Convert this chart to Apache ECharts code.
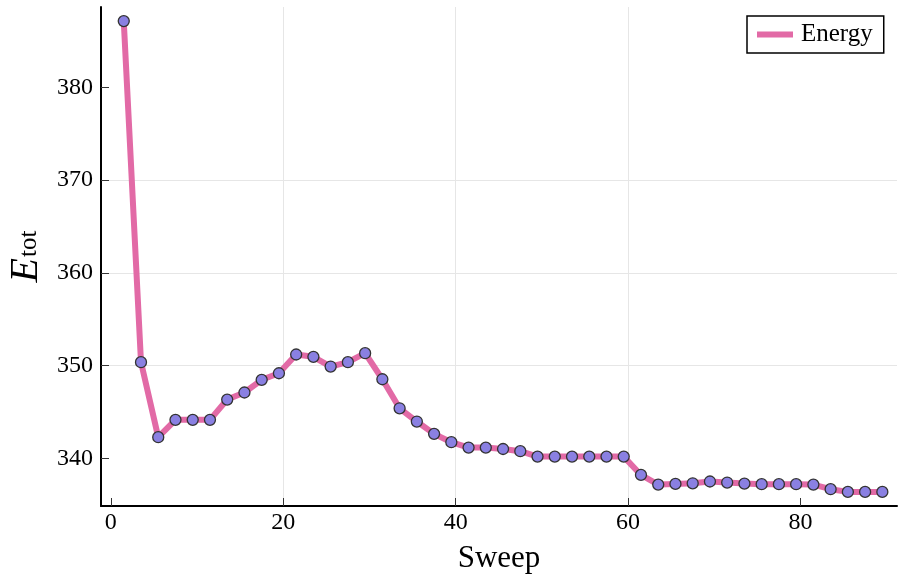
<!DOCTYPE html>
<html>
<head>
<meta charset="utf-8">
<script src="https://cdn.jsdelivr.net/npm/echarts@6/dist/echarts.min.js"></script>
<style>
  html, body { margin: 0; padding: 0; background: #fff; }
  #main { width: 898px; height: 579px; }
</style>
</head>
<body>
<div id="main"></div>
<script>
// sweep number and total energy
var sweep = [1.5, 3.5, 5.5, 7.5, 9.5, 11.5, 13.5, 15.5, 17.5, 19.5,
             21.5, 23.5, 25.5, 27.5, 29.5, 31.5, 33.5, 35.5, 37.5, 39.5,
             41.5, 43.5, 45.5, 47.5, 49.5, 51.5, 53.5, 55.5, 57.5, 59.5,
             61.5, 63.5, 65.5, 67.5, 69.5, 71.5, 73.5, 75.5, 77.5, 79.5,
             81.5, 83.5, 85.5, 87.5, 89.5];
var energy = [387.15, 350.36, 342.27, 344.14, 344.14, 344.14, 346.33, 347.09, 348.46, 349.17,
              351.19, 350.94, 349.89, 350.36, 351.33, 348.52, 345.39, 343.96, 342.63, 341.73,
              341.15, 341.15, 341.0, 340.76, 340.18, 340.18, 340.18, 340.18, 340.18, 340.18,
              338.2, 337.16, 337.23, 337.3, 337.49, 337.38, 337.27, 337.2, 337.2, 337.2,
              337.16, 336.66, 336.37, 336.37, 336.37];
var xTicks = [0, 20, 40, 60, 80];
var yTicks = [340, 350, 360, 370, 380];

var points = sweep.map(function (s, i) {
    return [s, energy[i]];
});

var font = '"Liberation Serif", "DejaVu Serif", serif';
var pink = '#e26aa6';

var chart = echarts.init(document.getElementById('main'));

var option = {
    animation: false,
    backgroundColor: '#fff',
    grid: {
        left: 101,
        top: 7,
        right: 1,
        height: 499,
        containLabel: false,
        outerBoundsMode: 'none'
    },
    legend: {
        left: 747,
        top: 16,
        padding: [6, 11, 6, 10],
        borderColor: '#000',
        borderWidth: 1.5,
        borderRadius: 0,
        backgroundColor: '#fff',
        itemWidth: 36,
        itemHeight: 6,
        itemGap: 6,
        textStyle: { fontFamily: font, fontSize: 25, color: '#000', padding: [0, 0, 0, 3] },
        data: [{ name: 'Energy', icon: 'rect',
                 itemStyle: { color: pink, borderWidth: 0 } }]
    },
    xAxis: {
        type: 'value',
        min: -1.14,
        max: 91.2,
        name: 'Sweep',
        nameLocation: 'middle',
        nameGap: 37,
        nameTextStyle: { fontFamily: font, fontSize: 31, color: '#000' },
        axisLine: { show: true, onZero: false, lineStyle: { color: '#000', width: 2 } },
        axisTick: { show: true, inside: true, length: 8, customValues: xTicks,
                    lineStyle: { color: '#333', width: 1 } },
        axisLabel: { customValues: xTicks, margin: 5, fontFamily: font, fontSize: 24, color: '#000' },
        splitLine: { show: true, showMinLine: false, showMaxLine: false,
                     lineStyle: { color: '#e6e6e6', width: 1 } }
    },
    yAxis: {
        type: 'value',
        min: 334.85,
        max: 388.67,
        name: '{e|E}{s|tot}',
        nameLocation: 'middle',
        nameRotate: 90,
        nameGap: 55,
        nameTextStyle: {
            color: '#000',
            rich: {
                e: { fontFamily: font, fontStyle: 'italic', fontSize: 40, color: '#000' },
                s: { fontFamily: font, fontSize: 25, color: '#000', padding: [6, 0, 0, 1] }
            }
        },
        axisLine: { show: true, onZero: false, lineStyle: { color: '#000', width: 2 } },
        axisTick: { show: true, inside: true, length: 8, customValues: yTicks,
                    lineStyle: { color: '#333', width: 1 } },
        axisLabel: { customValues: yTicks, margin: 8, fontFamily: font, fontSize: 24, color: '#000' },
        splitLine: { show: true, showMinLine: false, showMaxLine: false,
                     lineStyle: { color: '#e6e6e6', width: 1 } }
    },
    series: [{
        name: 'Energy',
        type: 'line',
        data: points,
        lineStyle: { color: pink, width: 6 },
        symbol: 'circle',
        symbolSize: 11,
        itemStyle: { color: '#8a80e2', borderColor: '#333', borderWidth: 1.3 },
        emphasis: { disabled: true }
    }]
};

chart.setOption(option);
</script>
</body>
</html>
